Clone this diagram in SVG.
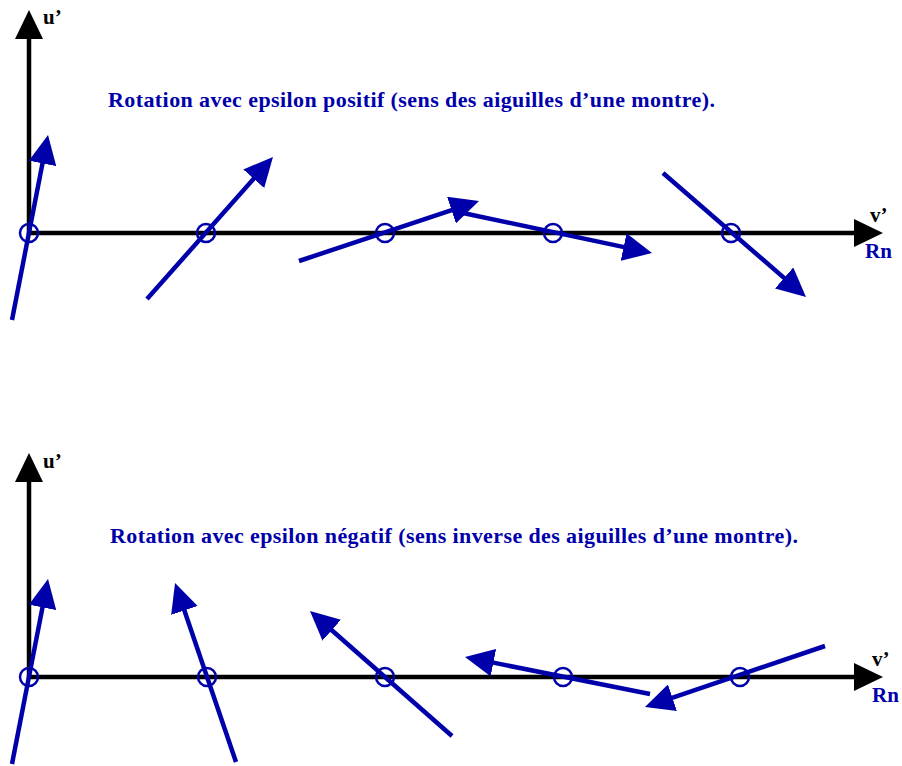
<svg xmlns="http://www.w3.org/2000/svg" width="902" height="766" viewBox="0 0 902 766">
  <style>
    .axis { stroke: #000; stroke-width: 4.5; fill: none; marker-end: url(#ka); }
    .vec { stroke: #0000AA; stroke-width: 4.5; fill: none; marker-end: url(#ba); }
    .pt { stroke: #0000AA; stroke-width: 2.5; fill: none; }
    .lbl { font-family: "Liberation Serif", "Times New Roman", serif; font-weight: bold; font-size: 21px; }
    .title { font-size: 22px; }
    .blk { fill: #000; }
    .blu { fill: #0000AA; }
  </style>
  <defs>
    <marker id="ka" viewBox="0 -14 29 28" markerWidth="29" markerHeight="28" refX="9" refY="0" orient="auto" markerUnits="userSpaceOnUse">
      <path d="M0,-14 L29,0 L0,14 Z" fill="#000"/>
    </marker>
    <marker id="ba" viewBox="0 -14 29 28" markerWidth="29" markerHeight="28" refX="9" refY="0" orient="auto" markerUnits="userSpaceOnUse">
      <path d="M0,-14 L29,0 L0,14 Z" fill="#0000AA"/>
    </marker>
  </defs>
  <rect width="902" height="766" fill="#fff"/>

  <g id="panel-top">
    <g id="axes-top">
      <line class="axis" x1="29" y1="235" x2="29" y2="30"/>
      <line class="axis" x1="27" y1="233" x2="863" y2="233"/>
      <text class="lbl blk" x="43" y="24">u’</text>
      <text class="lbl blk" x="870" y="222">v’</text>
      <text class="lbl blu" x="865" y="258">Rn</text>
    </g>
    <text class="lbl title blu" x="108" y="107" textLength="607">Rotation avec epsilon positif (sens des aiguilles d’une montre).</text>
    <g id="vectors-top">
      <line class="vec" x1="12" y1="320" x2="44.2" y2="154.6"/>
      <line class="vec" x1="147" y1="299" x2="259.7" y2="172"/>
      <line class="vec" x1="299" y1="261" x2="460" y2="207.3"/>
      <line class="vec" x1="463" y1="213" x2="632.4" y2="248.9"/>
      <line class="vec" x1="663" y1="173" x2="790.9" y2="283.9"/>
    </g>
    <g id="points-top">
      <circle class="pt" cx="29" cy="233" r="9"/>
      <circle class="pt" cx="206" cy="233" r="9"/>
      <circle class="pt" cx="385" cy="233" r="9"/>
      <circle class="pt" cx="553" cy="233" r="9"/>
      <circle class="pt" cx="731" cy="233" r="9"/>
    </g>
  </g>

  <g id="panel-bottom">
    <g id="axes-bottom">
      <line class="axis" x1="29" y1="679" x2="29" y2="473"/>
      <line class="axis" x1="27" y1="677" x2="863" y2="677"/>
      <text class="lbl blk" x="43" y="468">u’</text>
      <text class="lbl blk" x="872" y="666">v’</text>
      <text class="lbl blu" x="872" y="702">Rn</text>
    </g>
    <text class="lbl title blu" x="110" y="543" textLength="688">Rotation avec epsilon négatif (sens inverse des aiguilles d’une montre).</text>
    <g id="vectors-bottom">
      <line class="vec" x1="12" y1="764" x2="44.2" y2="598.6"/>
      <line class="vec" x1="236" y1="762" x2="181.5" y2="601.9"/>
      <line class="vec" x1="452" y1="736" x2="325" y2="624.2"/>
      <line class="vec" x1="650" y1="694" x2="484.6" y2="660.9"/>
      <line class="vec" x1="825" y1="646" x2="663.9" y2="700.6"/>
    </g>
    <g id="points-bottom">
      <circle class="pt" cx="29" cy="677" r="9"/>
      <circle class="pt" cx="207" cy="677" r="9"/>
      <circle class="pt" cx="385" cy="677" r="9"/>
      <circle class="pt" cx="563" cy="677" r="9"/>
      <circle class="pt" cx="740" cy="677" r="9"/>
    </g>
  </g>
</svg>
